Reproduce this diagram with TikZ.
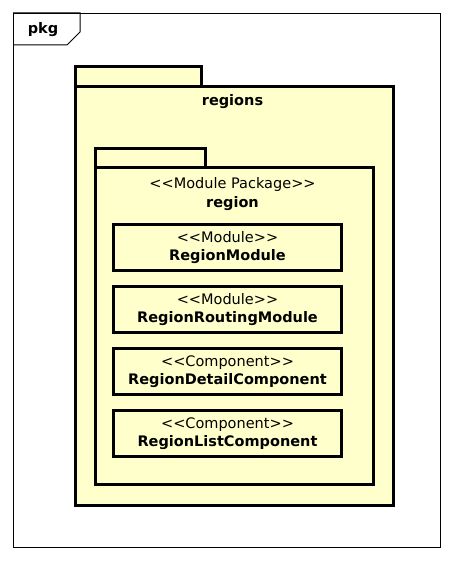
\documentclass[tikz,border=0pt]{standalone}
\usepackage{fontspec}
\setmainfont{DejaVu Sans}
\usepackage{xcolor}
\usepackage{tikz}
\usetikzlibrary{positioning}
\definecolor{PkgFill}{HTML}{FFFFCC}
\newcommand\umlfont{\fontsize{14.5}{18.5}\selectfont}
\newcommand\stereo[1]{{<}{<}#1{>}{>}}
\tikzset{
  umlframe/.style={draw,line width=1pt,fill=white},
  pkgbox/.style={draw,line width=3pt,fill=PkgFill,inner sep=0pt,anchor=north west},
  unit/.style={draw,line width=3pt,fill=PkgFill,align=center,font=\umlfont,
    minimum width=228pt,minimum height=46pt,inner sep=0pt},
  pkgname/.style={align=center,font=\umlfont}
}
\begin{document}
\begin{tikzpicture}[x=1pt,y=-1pt,node distance=13pt]
  \useasboundingbox (0,0) rectangle (453,561);
  % outer frame and its tab
  \node[umlframe,minimum width=427pt,minimum height=534pt,anchor=north west] (frame) at (13,13) {};
  \draw[line width=1pt] (frame.north west) -- (80,13) -- (80,32) -- (67,45) -- (13,45);
  \node[pkgname,font=\umlfont\bfseries] (pkgTitle) at (43,30) {pkg};
  % package regions
  \node[pkgbox,minimum width=126pt,minimum height=20pt] (regionsTab) at (73.5,65.5) {};
  \node[pkgbox,minimum width=318pt,minimum height=418pt] (regionsBody) at (73.5,85.5) {};
  \node[pkgname,font=\umlfont\bfseries] (regionsName) at (232.5,102) {regions};
  % module package region
  \node[pkgbox,minimum width=110pt,minimum height=19pt] (regionTab) at (93.5,147.5) {};
  \node[pkgbox,minimum width=278pt,minimum height=316pt] (regionBody) at (93.5,166.5) {};
  \node[pkgname] (regionName) at (232.5,194) {\stereo{Module Package}\\\textbf{region}};
  % modules and components
  \node[unit] (regionModule) at (227.5,247.5) {\stereo{Module}\\\textbf{RegionModule}};
  \node[unit,below=of regionModule] (routingModule) {\stereo{Module}\\\textbf{RegionRoutingModule}};
  \node[unit,below=of routingModule] (detailComp) {\stereo{Component}\\\textbf{RegionDetailComponent}};
  \node[unit,below=of detailComp] (listComp) {\stereo{Component}\\\textbf{RegionListComponent}};
\end{tikzpicture}
\end{document}
